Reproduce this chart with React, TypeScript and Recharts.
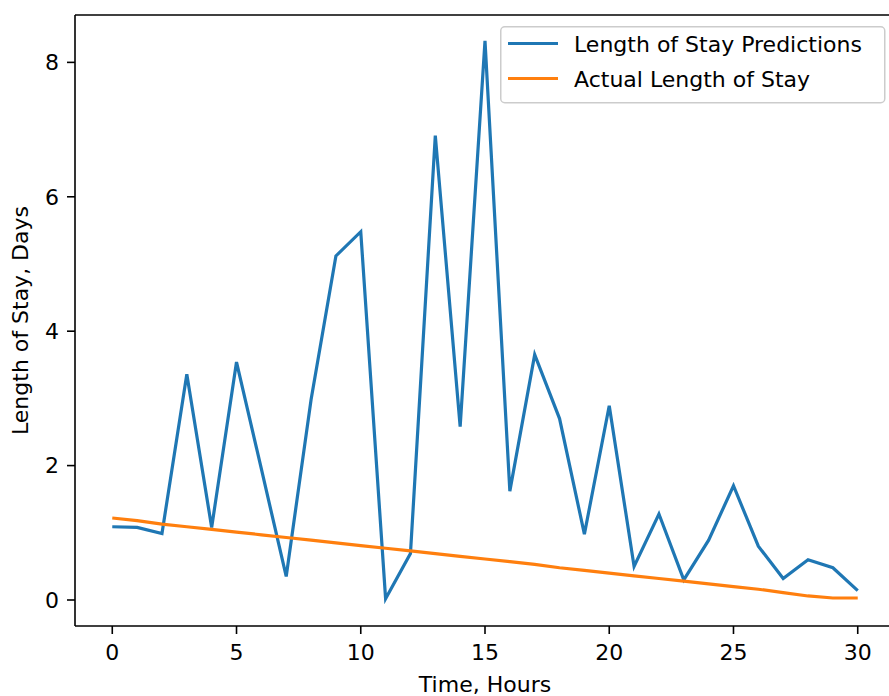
import { LineChart, Line, XAxis, YAxis, ReferenceLine } from 'recharts';

const hours = [
    0, 1, 2, 3, 4, 5, 6, 7, 8, 9, 10, 11, 12, 13, 14, 15, 16, 17, 18, 19, 20, 21, 22, 23, 24, 25, 26, 27, 28, 29, 30,
];

const predictedStay = [
    1.09, 1.08, 0.99, 3.36, 1.08, 3.54, 1.95, 0.35, 2.98, 5.12, 5.48, 0.02, 0.69, 6.91, 2.58, 8.32, 1.62, 3.65, 2.7,
    0.98, 2.89, 0.5, 1.28, 0.3, 0.89, 1.7, 0.8, 0.32, 0.6, 0.48, 0.14,
];

const actualStay = [
    1.22, 1.18, 1.13, 1.09, 1.05, 1.01, 0.97, 0.93, 0.89, 0.85, 0.81, 0.77, 0.73, 0.69, 0.65, 0.61, 0.57, 0.53, 0.48,
    0.44, 0.4, 0.36, 0.32, 0.28, 0.24, 0.2, 0.16, 0.11, 0.06, 0.03, 0.03,
];

const seriesNames = ['Length of Stay Predictions', 'Actual Length of Stay'];

const xTicks = [0, 5, 10, 15, 20, 25, 30];
const yTicks = [0, 2, 4, 6, 8];

const BLUE = '#1f77b4';
const ORANGE = '#ff7f0e';
const FONT = '"DejaVu Sans", sans-serif';
const Y_MAX = 8.705;

const data = hours.map((t, i) => ({ t, predicted: predictedStay[i], actual: actualStay[i] }));

// matplotlib-style legend box, drawn over the plot (upper right)
function LegendBox() {
    const colors = [BLUE, ORANGE];
    return (
        <svg width={386} height={78} style={{ position: 'absolute', left: 500, top: 26, display: 'block' }}>
            <rect x={0.75} y={0.75} width={384} height={76} rx={4} fill="rgba(255,255,255,0.8)" stroke="#cccccc" strokeWidth={1.5} />
            {seriesNames.map((name, i) => (
                <g key={name}>
                    <line x1={8} x2={58} y1={17.5 + i * 35} y2={17.5 + i * 35} stroke={colors[i]} strokeWidth={3.2} />
                    <text x={74} y={26 + i * 35} fontSize={22} fontFamily={FONT} fill="#000">
                        {name}
                    </text>
                </g>
            ))}
        </svg>
    );
}

export default function App() {
    return (
        <div style={{ position: 'relative', width: 889, height: 696, overflow: 'hidden', background: '#fff' }}>
            <style>{`body{margin:0;overflow:hidden}`}</style>
            <LineChart width={896} height={696} data={data} margin={{ top: 15, right: 1, left: 0, bottom: 0 }}>
                <XAxis
                    dataKey="t"
                    type="number"
                    domain={[-1.5, 31.5]}
                    ticks={xTicks}
                    allowDataOverflow
                    height={70}
                    tickSize={8}
                    tickMargin={10}
                    stroke="#000"
                    strokeWidth={1.6}
                    tick={{ fontSize: 22, fontFamily: FONT, fill: '#000' }}
                    label={{ value: 'Time, Hours', position: 'insideBottom', offset: 4, fontSize: 22, fontFamily: FONT, fill: '#000' }}
                />
                <YAxis
                    type="number"
                    domain={[-0.387, Y_MAX]}
                    ticks={yTicks}
                    allowDataOverflow
                    width={75}
                    tickSize={8}
                    tickMargin={8}
                    stroke="#000"
                    strokeWidth={1.6}
                    tick={{ fontSize: 22, fontFamily: FONT, fill: '#000' }}
                    label={{
                        value: 'Length of Stay, Days',
                        angle: -90,
                        position: 'insideLeft',
                        offset: 20,
                        fontSize: 22,
                        fontFamily: FONT,
                        fill: '#000',
                        style: { textAnchor: 'middle' },
                    }}
                />
                <ReferenceLine y={Y_MAX} stroke="#000" strokeWidth={1.6} />
                <Line
                    type="linear"
                    dataKey="predicted"
                    name={seriesNames[0]}
                    stroke={BLUE}
                    strokeWidth={3.2}
                    dot={false}
                    isAnimationActive={false}
                />
                <Line
                    type="linear"
                    dataKey="actual"
                    name={seriesNames[1]}
                    stroke={ORANGE}
                    strokeWidth={3.2}
                    dot={false}
                    isAnimationActive={false}
                />
            </LineChart>
            <LegendBox />
        </div>
    );
}
